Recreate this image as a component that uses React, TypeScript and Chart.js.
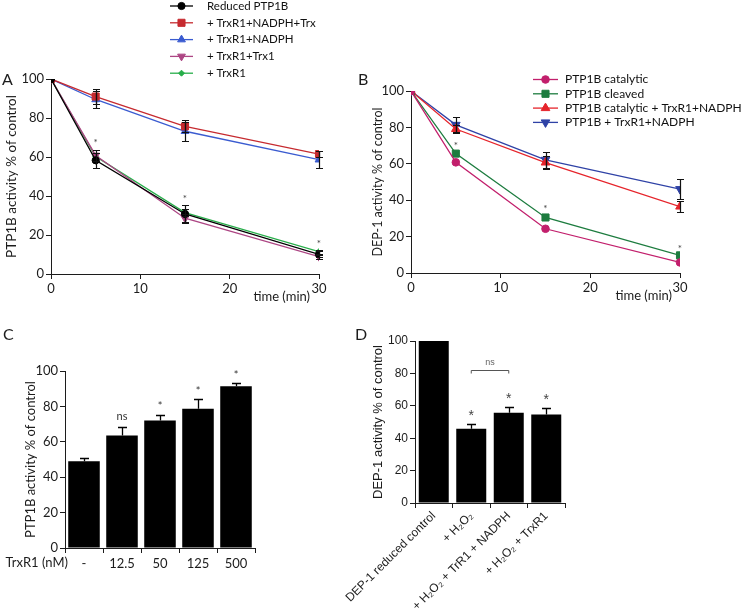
import React, { useEffect, useRef } from 'react';
import { Chart, registerables } from 'chart.js';
import { drawPoint } from 'chart.js/helpers';

Chart.register(...registerables);

const SANS = 'Lato, "Open Sans", sans-serif';
const ARIAL = '"Liberation Sans", Arial, sans-serif';
const INK = '#1c1c1c';

// ---------- Panel A data ----------
const TIMES = [0, 5, 15, 30];
const A_LABELS = ['Reduced PTP1B', '+ TrxR1+NADPH+Trx', '+ TrxR1+NADPH', '+ TrxR1+Trx1', '+ TrxR1'];
const A_REDUCED = [100, 58.3, 30.8, 10.1];
const A_REDUCED_ERR = [0, 4, 4.6, 1.5];
const A_FULL = [100, 91, 75.7, 61.5];
const A_FULL_ERR = [0, 4, 3.1, 1.5];
const A_NADPH = [100, 89.5, 73.2, 58.6];
const A_NADPH_ERR = [0, 4.5, 4.8, 4.3];
const A_TRX1 = [100, 60.8, 28.6, 8.9];
const A_TRX1_ERR = [0, 3, 2, 1];
const A_TRXR1 = [100, 60.2, 31.5, 11.5];
const A_TRXR1_ERR = [0, 2, 2, 1];
const A_STAR_X = [5, 15, 30];
const A_STAR_Y = [68.5, 39.4, 16.6];

// ---------- Panel B data ----------
const B_LABELS = ['PTP1B catalytic', 'PTP1B cleaved', 'PTP1B catalytic + TrxR1+NADPH', 'PTP1B + TrxR1+NADPH'];
const B_CATALYTIC = [100, 60.8, 24.3, 5.8];
const B_CLEAVED = [100, 65.6, 30.5, 9.7];
const B_CAT_TRXR1 = [100, 79.1, 60.7, 36.5];
const B_CAT_TRXR1_ERR = [0, 2.3, 3.7, 2.8];
const B_TRXR1 = [100, 81.4, 62.2, 46.1];
const B_TRXR1_ERR = [0, 4.1, 4.5, 5.6];
const B_STAR_X = [5, 15, 30];
const B_STAR_Y = [70.8, 36.4, 14.6];

// ---------- Panel C data ----------
const C_LABELS = ['-', '12.5', '50', '125', '500'];
const C_VALUES = [49, 63.5, 72, 78.7, 91.4];
const C_ERR = [2, 4.9, 3.2, 5.3, 1.6];
const C_MARKS = ['', 'ns', '*', '*', '*'];

// ---------- Panel D data ----------
const D_LABELS = ['DEP-1 reduced control', '+ H₂O₂', '+ H₂O₂ + TrR1 + NADPH', '+ H₂O₂ + TrxR1'];
const D_VALUES = [100, 45.8, 55.7, 54.7];
const D_ERR = [0, 3.1, 3.5, 4.1];
const D_MARKS = ['', '*', '*', '*'];
const D_NS_FROM = 1;
const D_NS_TO = 2;
const D_NS_LEVEL = 82;

function lineSet(label: string, values: number[], errors: number[], color: string, style: string, radius: number, rotation = 0) {
  return {
    label,
    data: TIMES.map((t, i) => ({ x: t, y: values[i] })),
    errors,
    borderColor: color,
    backgroundColor: color,
    borderWidth: 1.3,
    pointStyle: style,
    pointRadius: radius,
    pointHoverRadius: radius,
    pointRotation: rotation,
    pointBackgroundColor: color,
    pointBorderColor: color,
    pointBorderWidth: 1,
    tension: 0,
    fill: false,
  };
}

function errorBars(cap: number, color: string, width: number, upOnly: boolean) {
  return {
    id: 'errorBars',
    afterDatasetsDraw(chart: any) {
      const { ctx } = chart;
      const ys = chart.scales.y;
      chart.data.datasets.forEach((ds: any, di: number) => {
        const errs = ds.errors;
        if (!errs) return;
        const meta = chart.getDatasetMeta(di);
        meta.data.forEach((el: any, i: number) => {
          const e = errs[i];
          if (!e) return;
          const raw = ds.data[i];
          const v = typeof raw === 'number' ? raw : raw.y;
          const x = Math.round(el.x) + 0.5;
          const top = Math.round(ys.getPixelForValue(v + e)) + 0.5;
          const bot = upOnly ? ys.getPixelForValue(v) : Math.round(ys.getPixelForValue(v - e)) + 0.5;
          ctx.save();
          ctx.strokeStyle = color;
          ctx.lineWidth = width;
          ctx.beginPath();
          ctx.moveTo(x, top);
          ctx.lineTo(x, bot);
          ctx.moveTo(x - cap, top);
          ctx.lineTo(x + cap, top);
          if (!upOnly) {
            ctx.moveTo(x - cap, bot);
            ctx.lineTo(x + cap, bot);
          }
          ctx.stroke();
          ctx.restore();
        });
      });
    },
  };
}

function markerLegend(x0: number, y0: number, rowH: number, lineLen: number, gap: number, font: string) {
  return {
    id: 'markerLegend',
    afterDraw(chart: any) {
      const { ctx } = chart;
      chart.data.datasets.forEach((ds: any, i: number) => {
        const y = y0 + i * rowH;
        ctx.save();
        ctx.strokeStyle = ds.borderColor;
        ctx.lineWidth = 1.3;
        ctx.beginPath();
        ctx.moveTo(x0, y);
        ctx.lineTo(x0 + lineLen, y);
        ctx.stroke();
        ctx.fillStyle = ds.pointBackgroundColor;
        ctx.strokeStyle = ds.pointBorderColor;
        ctx.lineWidth = 1;
        drawPoint(ctx, { pointStyle: ds.pointStyle, radius: ds.pointRadius, rotation: ds.pointRotation || 0, borderWidth: 1 } as any, x0 + lineLen / 2, y);
        ctx.fillStyle = '#111';
        ctx.font = font;
        ctx.textAlign = 'left';
        ctx.textBaseline = 'middle';
        ctx.fillText(ds.label, x0 + lineLen + gap, y);
        ctx.restore();
      });
    },
  };
}

function drawText(ctx: any, text: string, x: number, y: number, font: string, color: string, align = 'center', baseline = 'middle') {
  ctx.save();
  ctx.font = font;
  ctx.fillStyle = color;
  ctx.textAlign = align;
  ctx.textBaseline = baseline;
  ctx.fillText(text, x, y);
  ctx.restore();
}

function axisX(fontFamily: string, size: number, extra: any = {}) {
  return {
    grid: { drawOnChartArea: false, drawTicks: true, tickLength: 5, color: INK, lineWidth: 1 },
    border: { display: true, color: INK, width: 1 },
    ticks: { color: INK, font: { family: fontFamily, size }, padding: 2, autoSkip: false },
    ...extra,
  };
}

function axisY(title: string, fontFamily: string, size: number, titleSize: number, titlePad: number, width: number) {
  return {
    min: 0,
    max: 100,
    grid: { drawOnChartArea: false, drawTicks: true, tickLength: 5, color: INK, lineWidth: 1 },
    border: { display: true, color: INK, width: 1 },
    ticks: { stepSize: 20, color: INK, font: { family: fontFamily, size }, padding: 2 },
    title: { display: true, text: title, color: INK, font: { family: fontFamily, size: titleSize }, padding: { top: titlePad, bottom: 0 } },
    afterFit: (s: any) => { s.width = width; },
  };
}

const baseOptions = {
  responsive: false,
  animation: false,
  events: [],
  plugins: { legend: { display: false }, tooltip: { enabled: false } },
};

function makeA(): any {
  return {
    type: 'line',
    data: {
      datasets: [
        lineSet(A_LABELS[0], A_REDUCED, A_REDUCED_ERR, '#000000', 'circle', 3.6),
        lineSet(A_LABELS[1], A_FULL, A_FULL_ERR, '#c62a2f', 'rect', 5),
        lineSet(A_LABELS[2], A_NADPH, A_NADPH_ERR, '#3a5bd0', 'triangle', 4.5),
        lineSet(A_LABELS[3], A_TRX1, A_TRX1_ERR, '#ad4684', 'triangle', 4.5, 180),
        lineSet(A_LABELS[4], A_TRXR1, A_TRXR1_ERR, '#27ae4a', 'rectRot', 3),
      ],
    },
    options: {
      ...baseOptions,
      layout: { padding: { top: 79, right: 31, left: 0, bottom: 0 } },
      scales: {
        x: axisX(SANS, 13, { type: 'linear', min: 0, max: 30, ticks: { stepSize: 10, color: INK, font: { family: SANS, size: 13 }, padding: 2 }, afterFit: (s: any) => { s.height = 36; } }),
        y: axisY('PTP1B activity % of control', SANS, 13, 13.5, 4, 51),
      },
    },
    plugins: [
      errorBars(3.5, '#111', 1.2, false),
      markerLegend(170, 6, 16.8, 23, 14, `11.5px ${SANS}`),
      {
        id: 'annotA',
        afterDraw(chart: any) {
          const { ctx, scales } = chart;
          A_STAR_X.forEach((x, i) => drawText(ctx, '*', scales.x.getPixelForValue(x), scales.y.getPixelForValue(A_STAR_Y[i]) + 2, `10px ${SANS}`, '#444'));
          drawText(ctx, 'time (min)', scales.x.getPixelForValue(30) - 9, 297, `13px ${SANS}`, INK, 'right');
          drawText(ctx, 'A', 2, 85, `16px ${SANS}`, INK, 'left', 'alphabetic');
        },
      },
    ],
  };
}

function makeB(): any {
  return {
    type: 'line',
    data: {
      datasets: [
        lineSet(B_LABELS[0], B_CATALYTIC, [], '#c21f6c', 'circle', 3.8),
        lineSet(B_LABELS[1], B_CLEAVED, [], '#1d7c3f', 'rect', 5),
        lineSet(B_LABELS[2], B_CAT_TRXR1, B_CAT_TRXR1_ERR, '#e6242b', 'triangle', 5),
        lineSet(B_LABELS[3], B_TRXR1, B_TRXR1_ERR, '#2f42a6', 'triangle', 5, 180),
      ],
    },
    options: {
      ...baseOptions,
      layout: { padding: { top: 91, right: 65, left: 20, bottom: 0 } },
      scales: {
        x: axisX(SANS, 13, { type: 'linear', min: 0, max: 30, ticks: { stepSize: 10, color: INK, font: { family: SANS, size: 13 }, padding: 2 }, afterFit: (s: any) => { s.height = 37; } }),
        y: axisY('DEP-1 activity % of control', SANS, 13, 12.5, 0, 41),
      },
    },
    plugins: [
      errorBars(3.5, '#111', 1.2, false),
      markerLegend(183, 79.5, 14.3, 25, 7, `12px ${SANS}`),
      {
        id: 'annotB',
        afterDraw(chart: any) {
          const { ctx, scales } = chart;
          B_STAR_X.forEach((x, i) => drawText(ctx, '*', scales.x.getPixelForValue(x), scales.y.getPixelForValue(B_STAR_Y[i]) + 2, `10px ${SANS}`, '#444'));
          drawText(ctx, 'time (min)', scales.x.getPixelForValue(30) - 8, 296, `13px ${SANS}`, INK, 'right');
          drawText(ctx, 'B', 8, 85, `16px ${SANS}`, INK, 'left', 'alphabetic');
        },
      },
    ],
  };
}

function makeC(): any {
  return {
    type: 'bar',
    data: {
      labels: C_LABELS,
      datasets: [{ data: C_VALUES, errors: C_ERR, backgroundColor: '#000', borderWidth: 0, barPercentage: 0.83, categoryPercentage: 1 }],
    },
    options: {
      ...baseOptions,
      layout: { padding: { top: 71, right: 45, left: 0, bottom: 0 } },
      scales: {
        x: axisX(SANS, 13, { ticks: { color: INK, font: { family: SANS, size: 13 }, padding: 3, autoSkip: false, maxRotation: 0 }, afterFit: (s: any) => { s.height = 63; } }),
        y: axisY('PTP1B activity % of control', SANS, 13, 13, 23, 65),
      },
    },
    plugins: [
      errorBars(4.5, '#000', 1.3, true),
      {
        id: 'annotC',
        afterDraw(chart: any) {
          const { ctx, scales } = chart;
          const meta = chart.getDatasetMeta(0);
          C_MARKS.forEach((m, i) => {
            if (!m) return;
            const y = scales.y.getPixelForValue(C_VALUES[i] + C_ERR[i]) - 10;
            drawText(ctx, m, meta.data[i].x, m === '*' ? y + 2 : y, `11px ${SANS}`, '#333');
          });
          const tickY = scales.x.top + 15;
          drawText(ctx, 'TrxR1 (nM)', scales.x.left + 3, tickY, `13px ${SANS}`, INK, 'right');
          drawText(ctx, 'C', 3, 40, `16px ${SANS}`, INK, 'left', 'alphabetic');
        },
      },
    ],
  };
}

function makeD(): any {
  return {
    type: 'bar',
    data: {
      labels: D_LABELS,
      datasets: [{ data: D_VALUES, errors: D_ERR, backgroundColor: '#000', borderWidth: 0, barPercentage: 0.8, categoryPercentage: 1 }],
    },
    options: {
      ...baseOptions,
      layout: { padding: { top: 41, right: 180, left: 70, bottom: 0 } },
      scales: {
        x: axisX(ARIAL, 12, { ticks: { color: INK, font: { family: ARIAL, size: 12 }, padding: 1, autoSkip: false, minRotation: 45, maxRotation: 45 }, afterFit: (s: any) => { s.height = 108; } }),
        y: axisY('DEP-1 activity % of control', ARIAL, 12, 13, 1, 45),
      },
    },
    plugins: [
      errorBars(4.5, '#000', 1.3, true),
      {
        id: 'annotD',
        afterDraw(chart: any) {
          const { ctx, scales } = chart;
          const meta = chart.getDatasetMeta(0);
          D_MARKS.forEach((m, i) => {
            if (!m) return;
            const y = scales.y.getPixelForValue(D_VALUES[i] + D_ERR[i]) - 11;
            drawText(ctx, m, meta.data[i].x, y + 3, `14px ${ARIAL}`, '#444');
          });
          const by = Math.round(scales.y.getPixelForValue(D_NS_LEVEL)) + 0.5;
          const x1 = meta.data[D_NS_FROM].x;
          const x2 = meta.data[D_NS_TO].x;
          ctx.save();
          ctx.strokeStyle = '#555';
          ctx.lineWidth = 1;
          ctx.beginPath();
          ctx.moveTo(x1, by + 3);
          ctx.lineTo(x1, by);
          ctx.lineTo(x2, by);
          ctx.lineTo(x2, by + 3);
          ctx.stroke();
          ctx.restore();
          drawText(ctx, 'ns', (x1 + x2) / 2, by - 8, `9px ${ARIAL}`, '#666');
          drawText(ctx, 'D', 55, 40, `16px ${SANS}`, INK, 'left', 'alphabetic');
        },
      },
    ],
  };
}

function ChartBox({ make, left, top, width, height }: any) {
  const ref = useRef<HTMLCanvasElement>(null);
  useEffect(() => {
    const chart = new Chart(ref.current as HTMLCanvasElement, make());
    return () => chart.destroy();
  }, []);
  return (
    <canvas
      ref={ref}
      width={width}
      height={height}
      style={{ position: 'absolute', left, top, width, height, display: 'block' }}
    />
  );
}

export default function App() {
  return (
    <div style={{ position: 'absolute', left: 0, top: 0, width: 745, height: 611, background: '#fff', overflow: 'hidden' }}>
      <ChartBox make={makeA} left={0} top={0} width={350} height={310} />
      <ChartBox make={makeB} left={350} top={0} width={395} height={310} />
      <ChartBox make={makeC} left={0} top={300} width={300} height={311} />
      <ChartBox make={makeD} left={300} top={300} width={445} height={311} />
    </div>
  );
}
